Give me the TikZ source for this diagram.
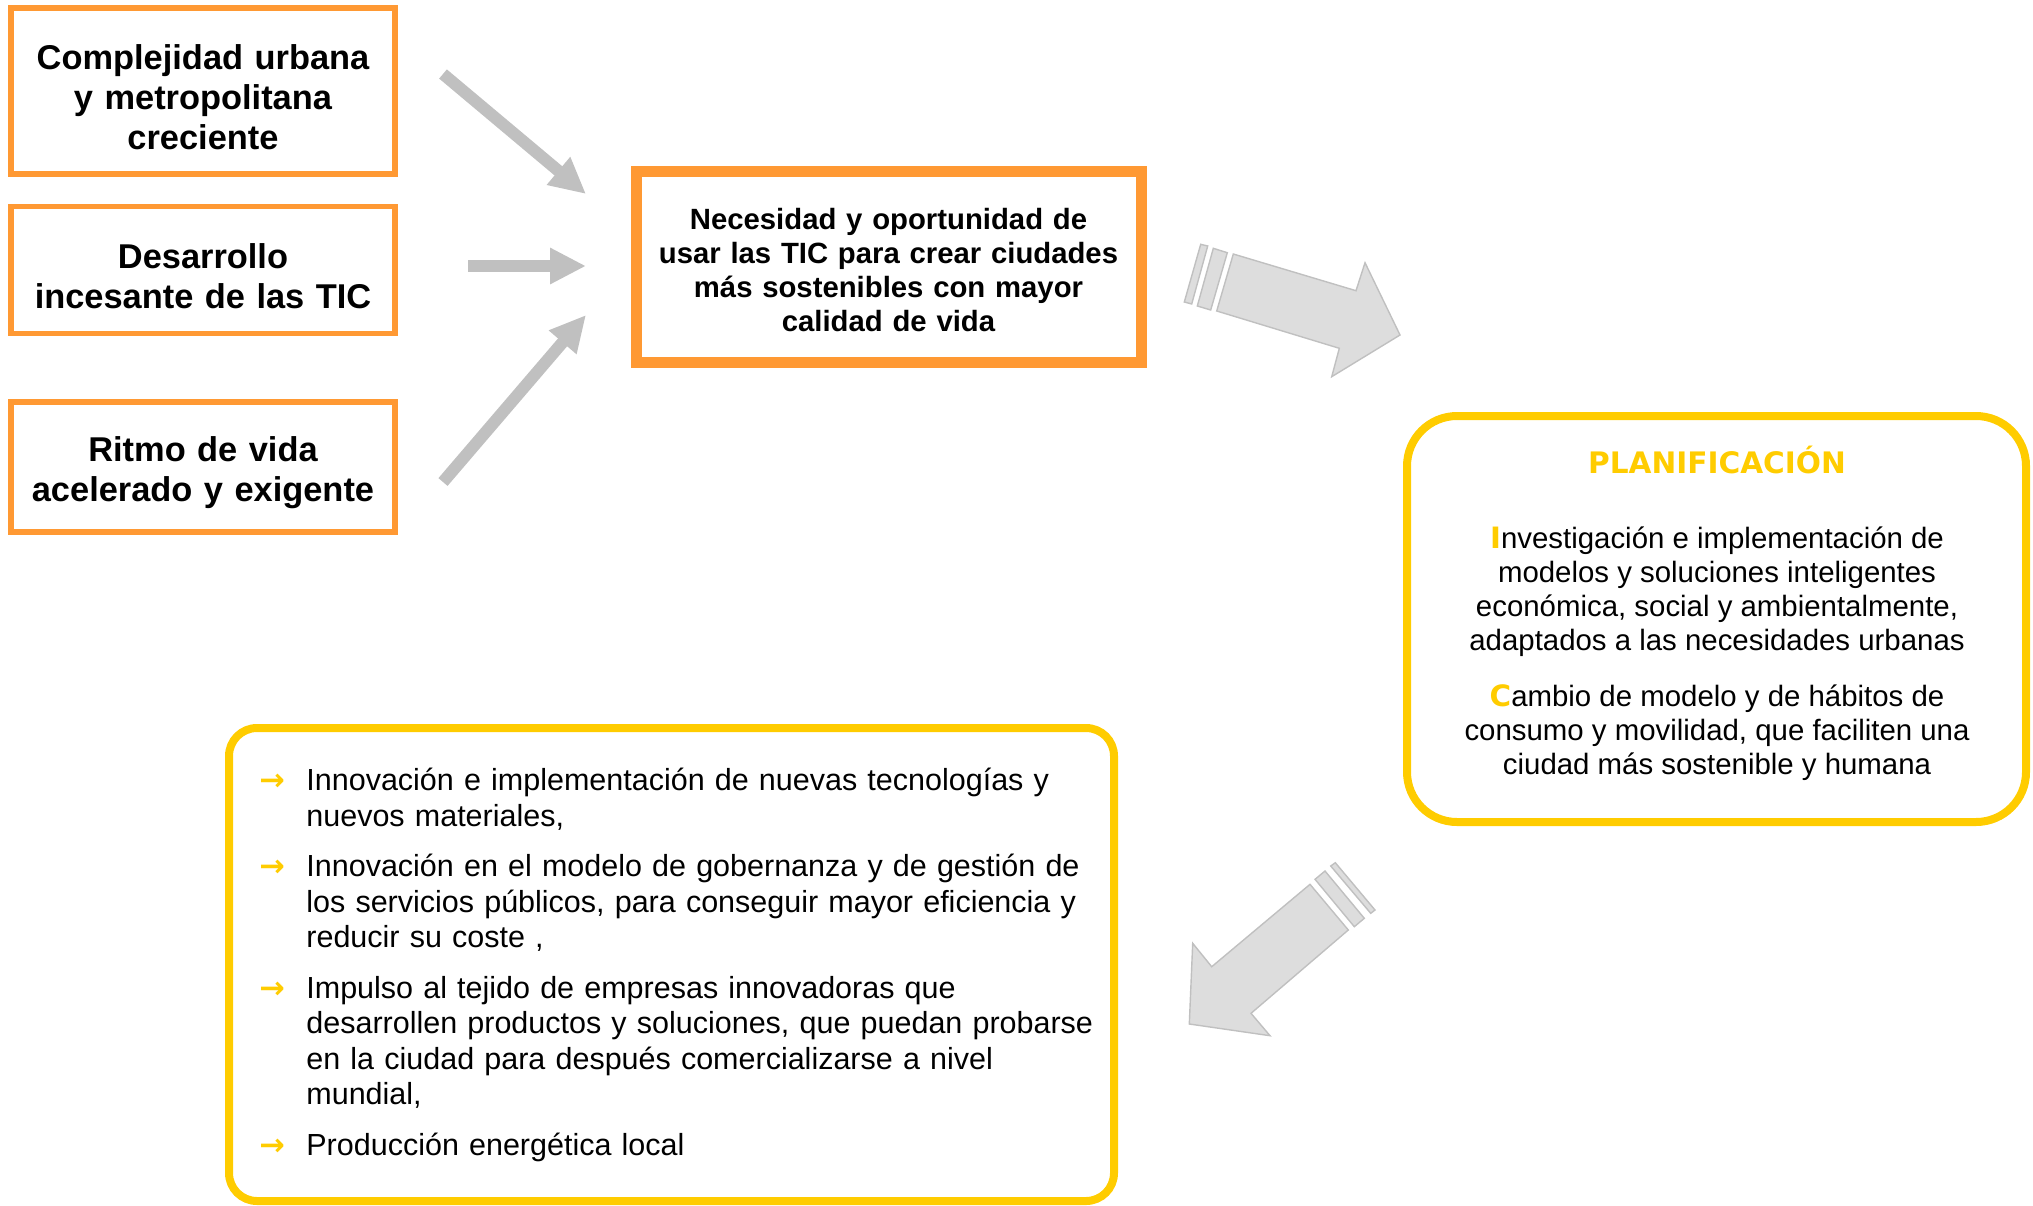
\documentclass[tikz,border=0pt]{standalone}
\usepackage{fontspec}
\setmainfont{Liberation Sans}
\newfontfamily\heavyfont{DejaVu Sans}
\usetikzlibrary{arrows.meta}
\definecolor{boxorange}{HTML}{FF9933}
\definecolor{planyellow}{HTML}{FFCC00}
\definecolor{arrowgray}{HTML}{C0C0C0}
\definecolor{bulkfill}{HTML}{DDDDDD}
\newcommand{\capletter}[1]{{\heavyfont\bfseries\color{planyellow}#1}}
\newcommand{\actionitem}[1]{\par\hangindent=23.5pt\hangafter=1\noindent
  \makebox[23.5pt][l]{\heavyfont\bfseries\color{planyellow}→}#1}
\begin{document}
\begin{tikzpicture}[x=0.5pt,y=-0.5pt,
  cause/.style={draw=boxorange,line width=2.8pt,minimum width=192pt,
    text width=184pt,align=center,inner sep=0pt,
    execute at begin node=\rule{0pt}{18.5pt},
    font=\bfseries\fontsize{17.2}{20}\selectfont},
  feed/.style={draw=arrowgray,line width=6pt,
    -{Triangle[length=18pt,width=17pt]}},
  bulk/.style={fill=bulkfill,draw=arrowgray,line width=0.7pt,line join=miter},
  panel/.style={draw=planyellow,line width=4pt}]
  \useasboundingbox (0,0) rectangle (2033,1205);
  \node[cause,minimum height=83pt]   (urban) at (203,91)
    {Complejidad urbana\\ y metropolitana\\ creciente};
  \node[cause,minimum height=63.5pt] (tic)   at (203,270)
    {Desarrollo\\ incesante de las TIC};
  \node[cause,minimum height=65pt]   (pace)  at (203,467)
    {Ritmo de vida\\ acelerado y exigente};
  \node[draw=boxorange,line width=5.5pt,minimum width=252.5pt,
    minimum height=95.5pt,text width=240pt,align=center,inner sep=0pt,
    execute at begin node=\rule{0pt}{13.7pt},
    font=\bfseries\fontsize{14.65}{17}\selectfont] (need) at (888.5,266.5)
    {Necesidad y oportunidad de\\ usar las TIC para crear ciudades\\
     más sostenibles con mayor\\ calidad de vida};
  \coordinate (urbanout) at (443,74);  \coordinate (urbanin) at (586,194);
  \coordinate (ticout)   at (468,266); \coordinate (ticin)   at (586,266);
  \coordinate (paceout)  at (443,482); \coordinate (pacein)  at (586,315);
  \draw[feed] (urbanout) -- (urbanin);
  \draw[feed] (ticout) -- (ticin);
  \draw[feed] (paceout) -- (pacein);
  \draw[bulk] plot coordinates{(1200.7,244.3) (1207.7,246) (1191.7,304)
    (1184.3,302)} -- cycle;
  \draw[bulk] plot coordinates{(1213.3,248.3) (1227.3,252.7) (1210.7,310)
    (1197.3,306)} -- cycle;
  \draw[bulk] plot coordinates{(1233.3,254) (1356,290.7) (1365,262.7)
    (1400,335) (1331.7,376.7) (1339.3,348.3) (1216.7,311)} -- cycle;
  \draw[bulk] plot coordinates{(1330.7,866) (1335.3,862.7) (1375,910)
    (1370.7,913.3)} -- cycle;
  \draw[bulk] plot coordinates{(1315,879.3) (1325,871) (1364.3,918.3)
    (1354.3,926.7)} -- cycle;
  \draw[bulk] plot coordinates{(1310,884.3) (1348.3,930) (1251,1013.3)
    (1270,1035.7) (1189.3,1024) (1192.7,943.3) (1211.7,966.7)} -- cycle;
  \node[panel,rounded corners=25pt,minimum width=309.5pt,
    minimum height=203pt] (plan) at (1716.5,619) {};
  \node[text=planyellow,font=\heavyfont\bfseries\fontsize{14.8}{17}\selectfont]
    (plantitle) at (1717,460) {PLANIFICACIÓN};
  \node[align=center,font=\fontsize{14.7}{17}\selectfont] (research)
    at (1717,592) {\capletter{I}nvestigación e implementación de\\
    modelos y soluciones inteligentes\\ económica, social y ambientalmente,\\
    adaptados a las necesidades urbanas};
  \node[align=center,font=\fontsize{14.7}{17}\selectfont] (habits)
    at (1717,733) {\capletter{C}ambio de modelo y de hábitos de\\
    consumo y movilidad, que faciliten una\\ ciudad más sostenible y humana};
  \node[panel,rounded corners=14pt,minimum width=442.5pt,
    minimum height=236.5pt] (actions) at (671.5,964.5) {};
  \node[anchor=north west,text width=420pt,align=left,inner sep=0pt,
    font=\fontsize{15.25}{17.75}\selectfont] (items) at (259,740)
    {\setlength{\parskip}{7.5pt}%
    \actionitem{Innovación e implementación de nuevas tecnologías y\newline
      nuevos materiales,}
    \actionitem{Innovación en el modelo de gobernanza y de gestión de\newline
      los servicios públicos, para conseguir mayor eficiencia y\newline
      reducir su coste ,}
    \actionitem{Impulso al tejido de empresas innovadoras que\newline
      desarrollen productos y soluciones, que puedan probarse\newline
      en la ciudad para después comercializarse a nivel\newline mundial,}
    \actionitem{Producción energética local}};
\end{tikzpicture}
\end{document}
